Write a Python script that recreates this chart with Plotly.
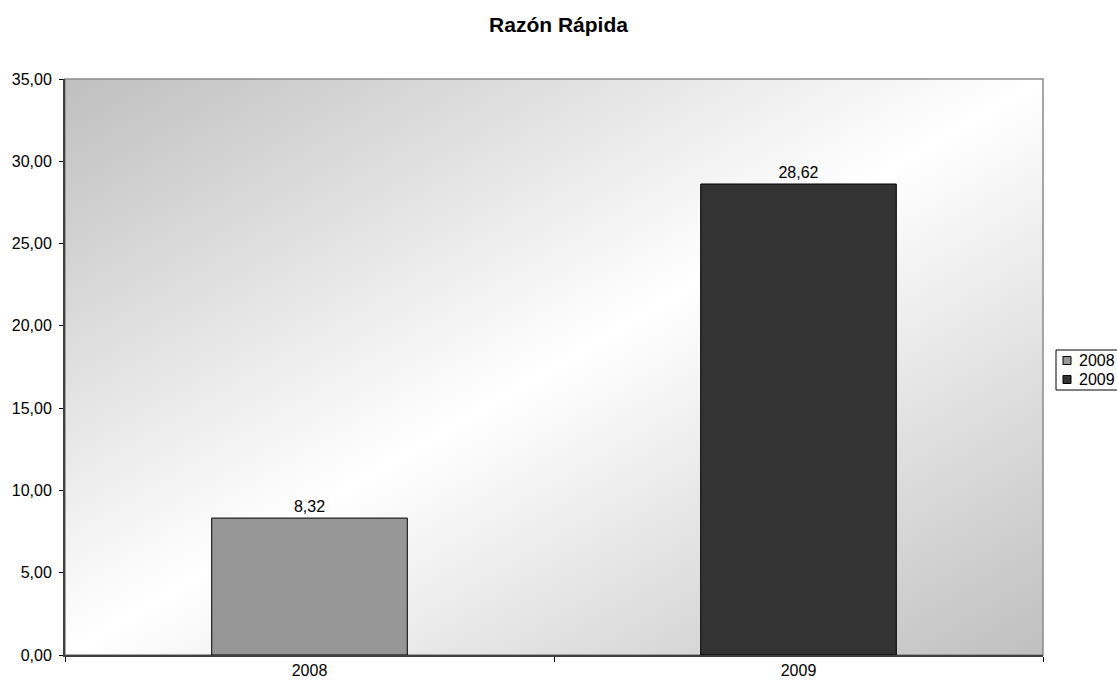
import base64
import plotly.graph_objects as go

# Quick ratio per year
years = ["2008", "2009"]
values = [8.32, 28.62]
bar_colors = ["#969696", "#333333"]
value_labels = ["8,32", "28,62"]

y_ticks = [0, 5, 10, 15, 20, 25, 30, 35]

FONT = "Liberation Sans, Arial, sans-serif"

# Figure geometry (pixels)
W, H = 1117, 680
L, R, T, B = 65, 74, 79, 25
PW, PH = W - L - R, H - T - B


def px_x(p):
    return (p - L) / PW


def px_y(p):
    return (H - B - p) / PH


# Diagonal grey-white-grey background for the plot area
svg_bg = (
    '<svg xmlns="http://www.w3.org/2000/svg" width="100" height="100" preserveAspectRatio="none">'
    '<defs><linearGradient id="g" x1="0" y1="0" x2="1" y2="1">'
    '<stop offset="0" stop-color="#bfbfbf"/>'
    '<stop offset="0.5" stop-color="#ffffff"/>'
    '<stop offset="1" stop-color="#bfbfbf"/>'
    '</linearGradient></defs>'
    '<rect width="100" height="100" fill="url(#g)"/></svg>'
)
bg_uri = "data:image/svg+xml;base64," + base64.b64encode(svg_bg.encode()).decode()

fig = go.Figure()
for yr, val, col, lab in zip(years, values, bar_colors, value_labels):
    fig.add_trace(go.Bar(
        x=[yr], y=[val], name=yr,
        marker=dict(color=col, line=dict(color="#000000", width=1)),
        width=0.4,
        text=[lab], textposition="outside",
        textfont=dict(family=FONT, size=16, color="#000000"),
        cliponaxis=False,
        showlegend=False,
    ))

# Compact legend box at the right edge, Excel style
shapes = [dict(type="rect", xref="paper", yref="paper", x0=0, y0=0, x1=1, y1=1,
               line=dict(color="#8c8c8c", width=1.5), layer="below")]
annotations = []
box_top, row_h = 350, 19
shapes.append(dict(type="rect", xref="paper", yref="paper",
                   x0=px_x(1056), x1=px_x(1125), y0=px_y(box_top + 2 * row_h + 2), y1=px_y(box_top),
                   line=dict(color="#000000", width=1), fillcolor="#ffffff", layer="above"))
for i, (yr, col) in enumerate(zip(years, bar_colors)):
    cy = box_top + row_h * (i + 0.5) + 1
    shapes.append(dict(type="rect", xref="paper", yref="paper",
                       x0=px_x(1063), x1=px_x(1071), y0=px_y(cy + 4), y1=px_y(cy - 4),
                       line=dict(color="#000000", width=1), fillcolor=col, layer="above"))
    annotations.append(dict(text=yr, xref="paper", yref="paper", x=px_x(1077), y=px_y(cy),
                            xanchor="left", yanchor="middle", showarrow=False,
                            font=dict(family=FONT, size=16, color="#000000")))

fig.update_layout(
    width=W, height=H,
    margin=dict(l=L, r=R, t=T, b=B, autoexpand=False),
    paper_bgcolor="#ffffff",
    plot_bgcolor="rgba(0,0,0,0)",
    barmode="overlay",
    separators=",.",
    font=dict(family=FONT, size=16, color="#000000"),
    title=dict(text="<b>Razón Rápida</b>", x=0.5, xanchor="center",
               y=1 - 25 / H, yanchor="middle",
               font=dict(family=FONT, size=21, color="#000000")),
    showlegend=False,
    images=[dict(source=bg_uri, xref="paper", yref="paper", x=0, y=1,
                 sizex=1, sizey=1, sizing="stretch", layer="below",
                 xanchor="left", yanchor="top")],
    shapes=shapes,
    annotations=annotations,
)

fig.update_xaxes(
    type="category", categoryorder="array", categoryarray=years,
    showgrid=False, showline=True, linecolor="#404040", linewidth=2,
    ticks="outside", tickson="boundaries", ticklen=5, tickcolor="#000000",
    tickfont=dict(family=FONT, size=16, color="#000000"),
    zeroline=False,
)
fig.update_yaxes(
    range=[0, 35], tickvals=y_ticks, tickformat=".2f",
    showgrid=False, showline=True, linecolor="#404040", linewidth=2,
    ticks="outside", ticklen=4, tickcolor="#000000",
    tickfont=dict(family=FONT, size=16, color="#000000"),
    ticklabelstandoff=4,
    zeroline=False,
)

fig.write_html("out.html")
